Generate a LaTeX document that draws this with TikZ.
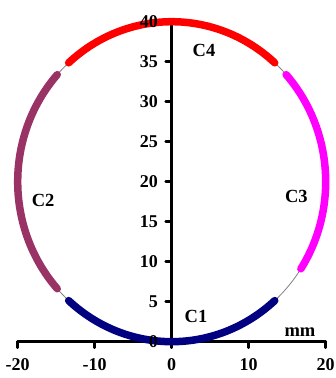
\documentclass[tikz,border=0pt]{standalone}
\usepackage{fontspec}
\setmainfont{Liberation Serif}
\begin{document}
\begin{tikzpicture}[x=7.7pt,y=8pt,
  axisline/.style={line width=3pt,line cap=round,black},
  tickline/.style={line width=2.6pt,line cap=round,black},
  arcline/.style={line width=7.5pt,line cap=round},
  lbl/.style={font=\bfseries\fontsize{18.5}{20}\selectfont,inner sep=0pt},
  ticklbl/.style={font=\bfseries\fontsize{18}{20}\selectfont,inner sep=0pt}]
\definecolor{cnavy}{RGB}{0,0,128}
\definecolor{cplum}{RGB}{153,51,102}
\definecolor{cmag}{RGB}{255,0,255}
\definecolor{cred}{RGB}{255,0,0}
\useasboundingbox (-22.2987,-4.5375) rectangle (21.3377,42.7125);
% coordinates
\coordinate (O) at (0,0);
\coordinate (XL) at (-20,0);
\coordinate (XR) at (20,0);
\coordinate (YT) at (0,40);
% axes
\draw[axisline] (XL) -- (XR);
\draw[axisline] (O) -- (YT);
\foreach \v in {-20,-10,0,10,20}{
  \coordinate (xt\v) at (\v,0);
  \draw[tickline] (xt\v) -- ++(0,-6pt);
}
\foreach \v in {5,10,...,40}{
  \coordinate (yt\v) at (0,\v);
  \draw[tickline] (yt\v) -- ++(-6pt,0);
}
% thin gray circle
\draw[gray,line width=0.8pt] plot[domain=0:360,samples=181,smooth] ({20*cos(\x)},{20+20*sin(\x)});
% arcs
\draw[arcline,cnavy] plot[domain=228:312,samples=60,smooth] ({20*cos(\x)},{20+20*sin(\x)});
\draw[arcline,cplum] plot[domain=138:222,samples=60,smooth] ({20*cos(\x)},{20+20*sin(\x)});
\draw[arcline,cmag] plot[domain=-33:42,samples=60,smooth] ({20*cos(\x)},{20+20*sin(\x)});
\draw[arcline,cred] plot[domain=48:132,samples=60,smooth] ({20*cos(\x)},{20+20*sin(\x)});
% tick labels, drawn over the arcs
\foreach \v in {-20,-10,0,10,20}{
  \node[ticklbl] (xl\v) at (\v,-2.9) {\v};
}
\foreach \v in {0,5,10,...,40}{
  \node[ticklbl,anchor=east] (yl\v) at ([xshift=-13.5pt]0,\v) {\v};
}
% labels
\node[lbl] (c1) at (3.16,3.1) {C1};
\node[lbl] (c2) at (-16.7,17.7) {C2};
\node[lbl] (c3) at (16.2,18.2) {C3};
\node[lbl] (c4) at (4.19,36.46) {C4};
\node[lbl] (mm) at (16.66,1.25) {mm};
\end{tikzpicture}
\end{document}
